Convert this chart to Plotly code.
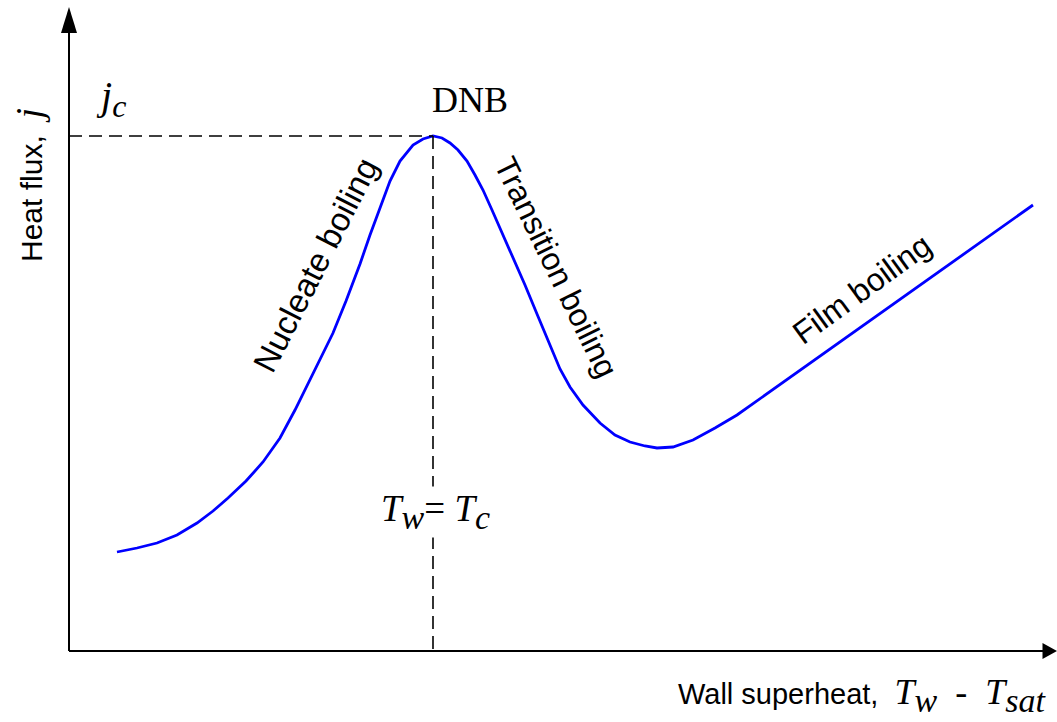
import plotly.graph_objects as go

# Boiling curve (schematic): wall superheat vs heat flux (arbitrary units)
superheat = [4.8, 6.8, 8.8, 10.8, 12.8, 14.4, 15.9, 17.7, 19.4, 21.1, 22.6, 24.1, 25.3, 26.4,
             27.7, 29.1, 30.1, 31.1, 32.1, 33.1, 34.4, 35.4, 36.4, 37.3, 38.1, 38.9, 39.8,
             40.6, 41.4, 42.3, 43.1, 44.3, 45.6, 46.8, 48.0, 49.1, 50.1, 51.4, 53.1, 54.6,
             56.1, 57.6, 58.8, 60.4, 62.4, 64.6, 66.8, 96.4]
heat_flux = [9.9, 10.3, 10.8, 11.6, 12.8, 14.0, 15.3, 17.0, 18.9, 21.3, 24.1, 27.1, 29.5, 31.8,
             35.0, 38.7, 41.6, 44.3, 47.0, 49.0, 50.6, 51.2, 51.5, 51.3, 50.8, 50.1, 49.0,
             47.6, 46.1, 44.1, 42.3, 39.6, 36.6, 33.7, 30.8, 28.2, 26.4, 24.6, 22.8, 21.6,
             20.9, 20.5, 20.3, 20.4, 21.1, 22.3, 23.6, 44.6]

x_axis_end = 98.8
y_axis_end = 64.4

i_peak = max(range(len(heat_flux)), key=lambda i: heat_flux[i])
T_c = superheat[i_peak]
j_c = heat_flux[i_peak]

SANS = "Arial, Liberation Sans, sans-serif"
SERIF = "Times New Roman, Liberation Serif, serif"


def math(s, size):
    return f"<span style='font-family:{SERIF};font-size:{size}px'>{s}</span>"


def sub(s, size):
    return f"<sub><span style='font-size:{size}px'>{s}</span></sub>"


fig = go.Figure()

fig.add_trace(go.Scatter(x=superheat, y=heat_flux, mode="lines",
                         line=dict(color="#0000ff", width=2.8), hoverinfo="skip"))

shapes = []
# axes
shapes.append(dict(type="line", xref="x", yref="y", x0=0, y0=0, x1=x_axis_end - 1.0, y1=0,
                   line=dict(color="black", width=2)))
shapes.append(dict(type="line", xref="x", yref="y", x0=0, y0=0, x1=0, y1=y_axis_end - 1.0,
                   line=dict(color="black", width=2)))
# arrow heads
shapes.append(dict(type="path", xref="x", yref="y",
                   path=f"M {x_axis_end} 0 L {x_axis_end-1.45} 0.8 L {x_axis_end-1.45} -0.8 Z",
                   fillcolor="black", line=dict(color="black", width=0)))
shapes.append(dict(type="path", xref="x", yref="y",
                   path=f"M 0 {y_axis_end} L 0.8 {y_axis_end-2.6} L -0.8 {y_axis_end-2.6} Z",
                   fillcolor="black", line=dict(color="black", width=0)))
# dashed guide lines at DNB
shapes.append(dict(type="line", xref="x", yref="y", x0=0, y0=j_c, x1=T_c, y1=j_c,
                   line=dict(color="black", width=1.6, dash="13px,7px")))
shapes.append(dict(type="line", xref="x", yref="y", x0=T_c, y0=j_c, x1=T_c, y1=0,
                   line=dict(color="black", width=1.6, dash="13px,7px")))

annotations = [
    dict(x=40.1, y=55.1, text="DNB", font=dict(family=SERIF, size=36, color="black")),
    dict(x=4.2, y=55.3, text="<i>j" + sub("c", 32) + "</i>",
         font=dict(family=SERIF, size=40, color="black")),
    dict(x=36.6, y=13.9, text="<i>T" + sub("w", 34) + "</i>= <i>T" + sub("c", 34) + "</i>",
         font=dict(family=SERIF, size=37, color="black"), bgcolor="white"),
    dict(x=-4.0, y=46.6, textangle=-90,
         text="Heat flux,  " + math("<i>j</i>", 38),
         font=dict(family=SANS, size=30, color="black")),
    dict(x=98.0, y=-4.4, xanchor="right",
         text="Wall superheat,  " + math("<i>T" + sub("w", 34) + "</i>  -  <i>T" + sub("sat", 34) + "</i>", 36),
         font=dict(family=SANS, size=29, color="black")),
    dict(x=24.6, y=38.6, textangle=-63, text="Nucleate boiling",
         font=dict(family=SANS, size=33, color="black")),
    dict(x=48.7, y=38.4, textangle=64, text="Transition boiling",
         font=dict(family=SANS, size=32, color="black")),
    dict(x=79.3, y=36.2, textangle=-36, text="Film boiling",
         font=dict(family=SANS, size=32, color="black")),
]
for a in annotations:
    a.update(xref="x", yref="y", showarrow=False)

fig.update_layout(
    width=1057, height=722,
    margin=dict(l=0, r=0, t=0, b=0),
    paper_bgcolor="white", plot_bgcolor="white",
    showlegend=False,
    xaxis=dict(range=[-6.9, 98.8], visible=False, fixedrange=True),
    yaxis=dict(range=[-7.1, 65.1], visible=False, fixedrange=True),
    shapes=shapes, annotations=annotations,
)

fig.write_html("out.html")
